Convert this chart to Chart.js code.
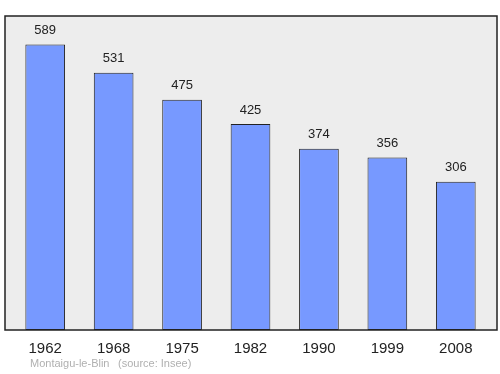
<!DOCTYPE html>
<html>
<head>
<meta charset="utf-8">
<script src="https://cdn.jsdelivr.net/npm/chart.js@4/dist/chart.umd.min.js"></script>
<style>
  html, body { margin: 0; padding: 0; background: #fff; }
  #wrap { width: 500px; height: 374px; }
</style>
</head>
<body>
<div id="wrap"><canvas id="chart"></canvas></div>
<script>
// Population data
const years = ['1962', '1968', '1975', '1982', '1990', '1999', '2008'];
const population = [589, 531, 475, 425, 374, 356, 306];
const commune = 'Montaigu-le-Blin';
const source = '(source: Insee)';

Chart.defaults.font.family = "'Liberation Sans', Arial, sans-serif";

// gray panel + black frame around the plot
const framePlugin = {
  id: 'frame',
  beforeDraw(chart) {
    const { ctx, chartArea: a } = chart;
    ctx.save();
    ctx.fillStyle = '#ededed';
    ctx.fillRect(a.left - 6, a.top, a.right - a.left + 13, a.bottom - a.top);
    ctx.restore();
  },
  afterDraw(chart) {
    const { ctx, chartArea: a } = chart;
    ctx.save();
    ctx.strokeStyle = '#222';
    ctx.lineWidth = 1.5;
    ctx.strokeRect(a.left - 6, a.top, a.right - a.left + 13, a.bottom - a.top);
    // source line
    ctx.fillStyle = '#b0b0b0';
    ctx.font = "11px 'Liberation Sans', Arial, sans-serif";
    ctx.textBaseline = 'middle';
    ctx.fillText(commune, 30, 364);
    ctx.fillText(source, 118, 364);
    ctx.restore();
  },
};

// value labels on top of bars
const valueLabels = {
  id: 'valueLabels',
  afterDatasetsDraw(chart) {
    const { ctx } = chart;
    const meta = chart.getDatasetMeta(0);
    ctx.save();
    ctx.fillStyle = '#222';
    ctx.font = "13px 'Liberation Sans', Arial, sans-serif";
    ctx.textAlign = 'center';
    ctx.textBaseline = 'middle';
    meta.data.forEach((bar, i) => {
      ctx.fillText(String(population[i]), bar.x, bar.y - 14);
    });
    ctx.restore();
  },
};

new Chart(document.getElementById('chart'), {
  type: 'bar',
  data: {
    labels: years,
    datasets: [{
      data: population,
      backgroundColor: '#7799ff',
      borderColor: '#222',
      borderWidth: 1,
      borderSkipped: false,
      barPercentage: 0.58,
      categoryPercentage: 1,
    }],
  },
  options: {
    responsive: true,
    maintainAspectRatio: false,
    animation: false,
    layout: { padding: { left: 11, right: 10, top: 16, bottom: 6 } },
    plugins: {
      legend: { display: false },
      tooltip: { enabled: false },
    },
    scales: {
      x: {
        grid: { display: false, drawTicks: false },
        border: { display: false },
        ticks: { color: '#222', font: { size: 15 }, padding: 10 },
      },
      y: {
        display: false,
        min: 0,
        max: 648,
      },
    },
  },
  plugins: [framePlugin, valueLabels],
});
</script>
</body>
</html>
